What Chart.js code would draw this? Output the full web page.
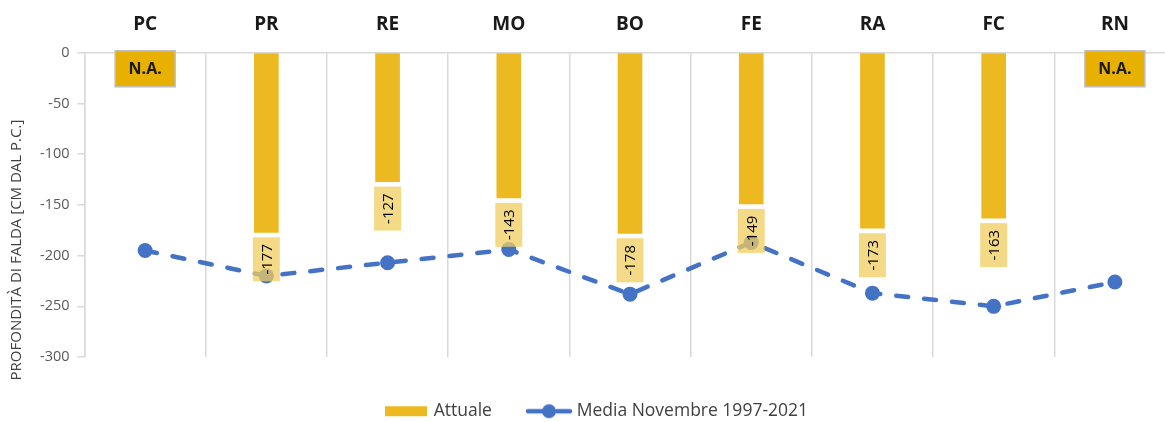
<!DOCTYPE html>
<html>
<head>
<meta charset="utf-8">
<script src="https://cdn.jsdelivr.net/npm/chart.js@4/dist/chart.umd.min.js"></script>
<style>
  html, body { margin: 0; padding: 0; background: #fff; overflow: hidden; }
  /* un po' più largo/alto della finestra: l'ultima categoria è tagliata come nell'originale */
  #wrap { width: 1183px; height: 430px; position: relative; }
</style>
</head>
<body>
<div id="wrap"><canvas id="c"></canvas></div>
<script>
const stations = ['PC', 'PR', 'RE', 'MO', 'BO', 'FE', 'RA', 'FC', 'RN'];
const attuale  = [null, -177, -127, -143, -178, -149, -173, -163, null];
const media    = [-195, -220, -207, -194, -238, -187, -237, -250, -226];
const yTicks   = { min: -300, max: 0, step: 50 };
const yTitle   = 'PROFONDITÀ DI FALDA [CM DAL P.C.]';
const naText   = 'N.A.';

const FONT = "'Open Sans', 'Noto Sans', sans-serif";
const GOLD = '#EDB921';
const BLUE = '#4472C4';

// piccole icone per la legenda
function legendIcon(kind){
  const cv = document.createElement('canvas');
  const g = cv.getContext('2d');
  if (kind === 'bar') {
    cv.width = 42; cv.height = 16;
    g.fillStyle = GOLD;
    g.fillRect(0, 3, 42, 10);
  } else {
    cv.width = 48; cv.height = 16;
    g.strokeStyle = BLUE; g.lineWidth = 4.5; g.lineCap = 'round';
    g.beginPath(); g.moveTo(3, 8); g.lineTo(18, 8); g.stroke();
    g.beginPath(); g.moveTo(32, 8); g.lineTo(45, 8); g.stroke();
    g.fillStyle = BLUE;
    g.beginPath(); g.arc(24, 8, 7, 0, Math.PI * 2); g.fill();
  }
  return cv;
}
const icons = [legendIcon('bar'), legendIcon('line')];

const extras = {
  id: 'extras',
  afterDatasetsDraw(chart){
    const ctx = chart.ctx;
    const xs = chart.scales.x;
    const area = chart.chartArea;
    // etichette valori sotto le barre
    const meta = chart.getDatasetMeta(0);
    meta.data.forEach((bar, i) => {
      const v = attuale[i];
      if (v == null) return;
      const w = 27, h = 44, top = bar.y + 5;
      ctx.save();
      ctx.fillStyle = 'rgba(240, 205, 95, 0.75)';
      ctx.fillRect(bar.x - w / 2, top, w, h);
      ctx.translate(bar.x, top + h / 2);
      ctx.rotate(-Math.PI / 2);
      ctx.fillStyle = '#000';
      ctx.font = `15px ${FONT}`;
      ctx.textAlign = 'center';
      ctx.textBaseline = 'middle';
      ctx.fillText(String(v), 0, 1);
      ctx.restore();
    });
    // box N.A. per stazioni senza dato
    attuale.forEach((v, i) => {
      if (v != null) return;
      const cx = xs.getPixelForValue(i);
      const w = 60, h = 36, top = area.top - 2;
      ctx.save();
      ctx.fillStyle = '#E8B000';
      ctx.strokeStyle = '#BFBFBF';
      ctx.lineWidth = 1.5;
      ctx.fillRect(cx - w / 2, top, w, h);
      ctx.strokeRect(cx - w / 2, top, w, h);
      ctx.fillStyle = '#1a1a1a';
      ctx.font = `bold 16px ${FONT}`;
      ctx.textAlign = 'center';
      ctx.textBaseline = 'middle';
      ctx.fillText(naText, cx, top + h / 2 + 1);
      ctx.restore();
    });
    // titolo asse y
    ctx.save();
    ctx.translate(17, area.bottom - 107);
    ctx.rotate(-Math.PI / 2);
    ctx.fillStyle = '#404040';
    ctx.font = `15px ${FONT}`;
    ctx.textAlign = 'center';
    ctx.textBaseline = 'middle';
    ctx.fillText(yTitle, 0, 0);
    ctx.restore();
  }
};

new Chart(document.getElementById('c'), {
  type: 'bar',
  data: {
    labels: stations,
    datasets: [
      {
        label: 'Attuale',
        data: attuale,
        backgroundColor: GOLD,
        barThickness: 24,
        order: 2
      },
      {
        type: 'line',
        label: 'Media Novembre 1997-2021',
        data: media,
        borderColor: BLUE,
        backgroundColor: BLUE,
        borderWidth: 4.5,
        borderDash: [12, 16],
        borderCapStyle: 'round',
        pointRadius: 7.5,
        pointBorderWidth: 0,
        pointBackgroundColor: BLUE,
        tension: 0,
        order: 1
      }
    ]
  },
  options: {
    responsive: true,
    maintainAspectRatio: false,
    animation: false,
    layout: { padding: { top: -4, left: 12, right: 0, bottom: 0 } },
    plugins: {
      tooltip: { enabled: false },
      legend: {
        position: 'bottom',
        title: { display: true, text: '', font: { size: 1 }, padding: { top: 6.25, bottom: 0 } },
        labels: {
          usePointStyle: true,
          pointStyleWidth: 38,
          font: { family: FONT, size: 17.5 },
          color: '#404040',
          padding: 38,
          generateLabels(chart){
            return chart.data.datasets.map((ds, i) => ({
              text: ds.label,
              pointStyle: icons[i],
              fillStyle: 'transparent',
              strokeStyle: 'transparent',
              lineWidth: 0,
              fontColor: '#404040',
              datasetIndex: i
            }));
          }
        }
      }
    },
    scales: {
      x: {
        position: 'top',
        grid: { display: true, offset: true, color: '#d9d9d9', drawTicks: false, lineWidth: 1.5 },
        border: { display: true, color: '#d9d9d9', width: 1.5 },
        ticks: { font: { family: FONT, size: 19, weight: 'bold' }, color: '#1a1a1a', padding: 17 }
      },
      y: {
        min: yTicks.min,
        max: yTicks.max,
        afterFit(scale){ scale.width += 20; }, // spazio per il titolo disegnato a mano
        ticks: { stepSize: yTicks.step, font: { family: FONT, size: 14.5 }, color: '#595959', padding: 8 },
        grid: { drawOnChartArea: false, drawTicks: true, tickLength: 7, color: '#d9d9d9', lineWidth: 1.5 },
        border: { display: true, color: '#d9d9d9', width: 1.5 }
      }
    }
  },
  plugins: [extras]
});
</script>
</body>
</html>
